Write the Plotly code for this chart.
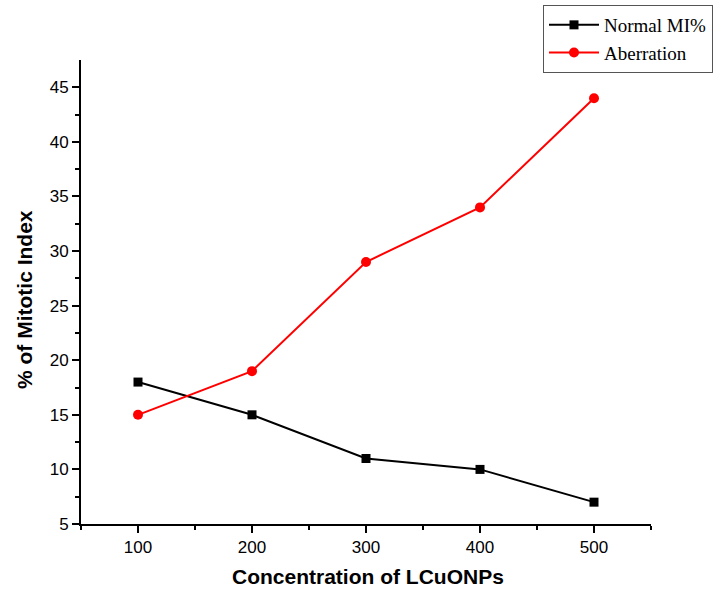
import plotly.graph_objects as go

concentration = [100, 200, 300, 400, 500]
normal_mi = [18, 15, 11, 10, 7]
aberration = [15, 19, 29, 34, 44]

x_title = "Concentration of LCuONPs"
y_title = "% of Mitotic Index"

fig = go.Figure()
fig.add_trace(go.Scatter(x=concentration, y=normal_mi, mode="lines+markers", name="Normal MI%",
                         line=dict(color="black", width=2),
                         marker=dict(symbol="square", size=9, color="black")))
fig.add_trace(go.Scatter(x=concentration, y=aberration, mode="lines+markers", name="Aberration",
                         line=dict(color="#ff0000", width=2),
                         marker=dict(symbol="circle", size=10, color="#ff0000")))

axis_common = dict(showline=True, linecolor="black", linewidth=2, ticks="outside", ticklen=7,
                   tickwidth=1.5, tickcolor="black", showgrid=False, zeroline=False,
                   tickfont=dict(family="Liberation Sans, Arial", size=17, color="black"),
                   mirror=False, automargin=False)
title_font = dict(family="Liberation Sans, Arial", size=21, color="black")
fig.update_layout(
    width=715, height=590,
    margin=dict(l=81, r=64, t=60, b=66, autoexpand=False),
    plot_bgcolor="white", paper_bgcolor="white",
    xaxis=dict(range=[50, 550], tickvals=[100, 200, 300, 400, 500],
               minor=dict(tickvals=[50, 150, 250, 350, 450, 550], ticks="outside", ticklen=4, tickcolor="black", tickwidth=1.5),
               **axis_common),
    yaxis=dict(range=[5, 47.5], tickvals=[5, 10, 15, 20, 25, 30, 35, 40, 45],
               minor=dict(tickvals=[7.5, 12.5, 17.5, 22.5, 27.5, 32.5, 37.5, 42.5], ticks="outside", ticklen=4, tickcolor="black", tickwidth=1.5),
               **axis_common),
    legend=dict(x=(543 - 81) / 570, y=(524 - 5) / 464, xanchor="left", yanchor="top",
                bordercolor="#555555", borderwidth=1,
                bgcolor="white", font=dict(family="Liberation Serif, Times New Roman", size=19, color="black"),
                tracegroupgap=0, itemwidth=50),
    showlegend=True,
    annotations=[
        dict(text="<b>" + x_title + "</b>", xref="paper", yref="paper",
             x=(368 - 81) / 570, y=(524 - 576) / 464, xanchor="center", yanchor="middle",
             showarrow=False, font=title_font),
        dict(text="<b>" + y_title + "</b>", xref="paper", yref="paper", textangle=-90,
             x=(24 - 81) / 570, y=(524 - 300) / 464, xanchor="center", yanchor="middle",
             showarrow=False, font=title_font),
    ],
)
fig.write_html("out.html", config={"displayModeBar": False},
               post_script="document.body.style.margin='0';document.body.style.overflow='hidden';")
